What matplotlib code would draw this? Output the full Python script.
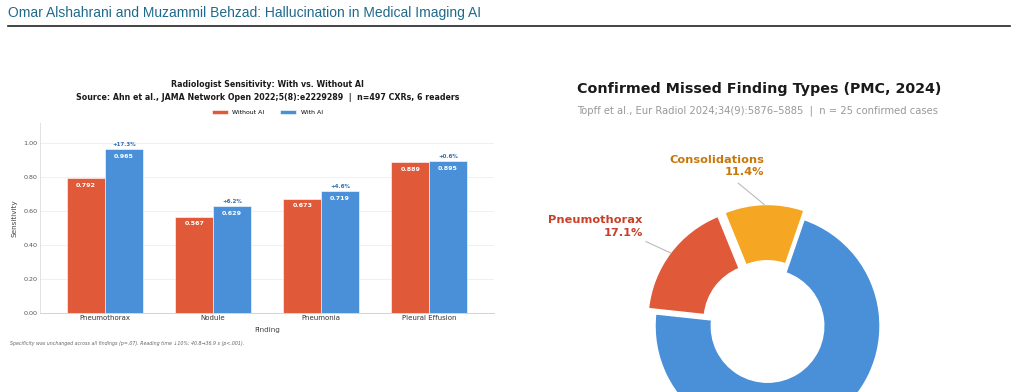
import numpy as np
import matplotlib
matplotlib.use("Agg")
import matplotlib.pyplot as plt

# Datos - sensibilidad (Ahn et al., 2022)
findings = ["Pneumothorax", "Nodule", "Pneumonia", "Pleural Effusion"]
sens_without = [0.792, 0.567, 0.673, 0.889]
sens_with = [0.965, 0.629, 0.719, 0.895]
yticks = [0.0, 0.2, 0.4, 0.6, 0.8, 1.0]

# Datos - tipos de hallazgos omitidos (Topff et al., 2024)
miss_labels = ["Consolidations", "Pneumothorax", "Other findings"]
miss_counts = [4, 6, 25]
miss_show_label = [True, True, False]

RED = "#E05A3A"
BLUE = "#4A90D9"
ORANGE = "#F5A623"

fig = plt.figure(figsize=(10.18, 3.92), dpi=100)

# Encabezado
fig.text(0.008, 0.968, "Omar Alshahrani and Muzammil Behzad: Hallucination in Medical Imaging AI",
         fontsize=10, color="#1f6a8c", family="Liberation Sans", va="center", ha="left")
fig.add_artist(plt.Line2D([0.008, 0.992], [0.934, 0.934], color="#222222", lw=1.2,
                          transform=fig.transFigure))

#%% Grafica de barras
ax = fig.add_axes([0.0396, 0.2023, 0.4457, 0.4847])
x = np.arange(len(findings))
w = 0.35
b1 = ax.bar(x - w / 2, sens_without, w, color=RED, edgecolor="white", linewidth=0.4, label="Without AI", zorder=3)
b2 = ax.bar(x + w / 2, sens_with, w, color=BLUE, edgecolor="white", linewidth=0.4, label="With AI", zorder=3)

for i in range(len(findings)):
    ax.text(x[i] - w / 2, sens_without[i] - 0.044, f"{sens_without[i]:.3f}", ha="center", va="center",
            fontsize=4.6, color="white", fontweight="bold", zorder=4)
    ax.text(x[i] + w / 2, sens_with[i] - 0.044, f"{sens_with[i]:.3f}", ha="center", va="center",
            fontsize=4.6, color="white", fontweight="bold", zorder=4)
    diff = (sens_with[i] - sens_without[i]) * 100
    ax.text(x[i] + w / 2, sens_with[i] + 0.012, f"+{diff:.1f}%", ha="center", va="bottom",
            fontsize=4.0, color="#2f6fb0", fontweight="bold", zorder=4)

ax.set_xlim(-0.6, 3.6)
ax.set_ylim(0, 1.12)
ax.set_xticks(x)
ax.set_xticklabels(findings, fontsize=5, color="#333333")
ax.set_yticks(yticks)
ax.set_yticklabels([f"{v:.2f}" for v in yticks], fontsize=4.6, color="#555555")
ax.tick_params(length=0, pad=2)
ax.grid(axis="y", color="#eeeeee", lw=0.6, zorder=0)
for s in ["top", "right"]:
    ax.spines[s].set_visible(False)
ax.spines["left"].set_color("#dddddd")
ax.spines["bottom"].set_color("#cccccc")
ax.spines["left"].set_linewidth(0.6)
ax.spines["bottom"].set_linewidth(0.6)
ax.set_xlabel("Finding", fontsize=5.2, color="#444444", labelpad=4)
ax.set_ylabel("Sensitivity", fontsize=5.2, color="#444444", labelpad=4)
ax.legend(loc="lower center", bbox_to_anchor=(0.5, 1.01), ncol=2, frameon=False, fontsize=4.4,
          handlelength=2.6, handleheight=0.6, columnspacing=2.5)

fig.text(0.2625, 0.7857, "Radiologist Sensitivity: With vs. Without AI", ha="center", va="center",
         fontsize=5.65, fontweight="bold", color="#1a1a1a")
fig.text(0.2625, 0.7518, "Source: Ahn et al., JAMA Network Open 2022;5(8):e2229289  |  n=497 CXRs, 6 readers",
         ha="center", va="center", fontsize=5.7, fontweight="bold", color="#1a1a1a")
fig.text(0.010, 0.123, "Specificity was unchanged across all findings (p=.07). Reading time \u219310%: 40.8\u219236.9 s (p<.001).",
         ha="left", va="center", fontsize=3.4, style="italic", color="#666666")

#%% Grafica de dona
axp = fig.add_axes([0.6103, -0.2047, 0.2873, 0.7462])
wedges, _ = axp.pie(miss_counts, colors=[ORANGE, RED, BLUE], startangle=71, counterclock=True,
                    explode=[0.08, 0.08, 0.0], radius=1.0,
                    wedgeprops=dict(width=0.5, edgecolor="white", linewidth=1))
axp.set_xlim(-1.3, 1.3)
axp.set_ylim(-1.3, 1.3)
axp.set_aspect("equal")
axp.axis("off")

total = sum(miss_counts)
label_pos = [(-0.03, 1.42), (-1.11, 0.885), (0, 0)]
line_start = [(-0.26, 1.27), (-1.08, 0.75), (0, 0)]
text_cols = ["#C9770A", "#C8402A", BLUE]
for i, wdg in enumerate(wedges):
    if not miss_show_label[i]:
        continue
    ang = np.deg2rad((wdg.theta1 + wdg.theta2) / 2)
    off = 0.08
    tip = ((1.0 + off) * np.cos(ang), (1.0 + off) * np.sin(ang))
    pct = miss_counts[i] / total * 100
    axp.annotate(f"{miss_labels[i]}\n{pct:.1f}%", xy=tip, xytext=label_pos[i],
                 ha="right", va="center", fontsize=8.2, fontweight="bold", color=text_cols[i],
                 annotation_clip=False, linespacing=1.3)
    axp.plot([line_start[i][0], tip[0]], [line_start[i][1], tip[1]], color="#bbbbbb", lw=0.8, clip_on=False)

fig.text(0.5668, 0.773, "Confirmed Missed Finding Types (PMC, 2024)", ha="left", va="center",
         fontsize=10.3, fontweight="bold", color="#1a1a1a")
fig.text(0.5668, 0.7186, "Topff et al., Eur Radiol 2024;34(9):5876\u20135885  |  n = 25 confirmed cases",
         ha="left", va="center", fontsize=7.2, color="#999999")

fig.savefig("out.png", dpi=100)
